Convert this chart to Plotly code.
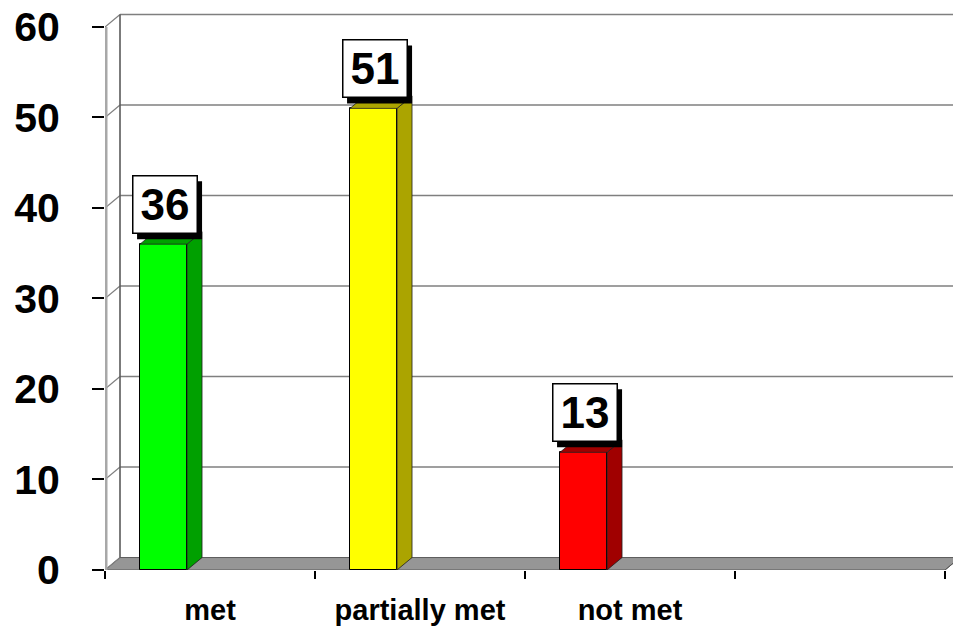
import plotly.graph_objects as go

# Data
categories = ["met", "partially met", "not met"]
values = [36, 51, 13]
front_colors = ["#00FF00", "#FFFF00", "#FF0000"]
side_colors = ["#00A000", "#ABA400", "#A00000"]
y_ticks = [0, 10, 20, 30, 40, 50, 60]
slot_edges = [0, 1, 2, 3, 4]

# Geometry of the pseudo-3D box (data units)
W, H = 953, 626
ML, MB = 105, 54
PX_X = 210.0          # pixels per category slot
PX_Y = 9.083          # pixels per value unit
XMAX = (W - ML) / PX_X
YMAX = (H - MB) / PX_Y
DX = 15 / PX_X        # depth offset, horizontal
DY = 12.5 / PX_Y      # depth offset, vertical
BAR_OFF = 0.2786      # front-face centre inside its slot
BAR_W = 0.224
BOX_W, BOX_H, BOX_LIFT = 63, 56, 10   # value-label box, pixels

shapes = []

def path(points):
    return "M " + " L ".join(f"{x},{y}" for x, y in points) + " Z"

# floor
shapes.append(dict(type="path", xref="x", yref="y", layer="below",
                   path=path([(0, 0), (4, 0), (4 + DX, DY), (DX, DY)]),
                   fillcolor="#969696", line=dict(color="#5a5a5a", width=1)))

# back-wall gridlines and left-wall connectors
for v in y_ticks[1:]:
    shapes.append(dict(type="line", xref="x", yref="y", layer="below",
                       x0=DX, y0=v + DY, x1=XMAX + 0.1, y1=v + DY,
                       line=dict(color="#7f7f7f", width=1.6)))
for v in y_ticks:
    shapes.append(dict(type="line", xref="x", yref="y", layer="below",
                       x0=0, y0=v, x1=DX, y1=v + DY,
                       line=dict(color="#7f7f7f", width=1.2)))
# back-wall left edge and front axis line
shapes.append(dict(type="line", xref="x", yref="y", layer="below",
                   x0=DX, y0=DY, x1=DX, y1=60 + DY,
                   line=dict(color="#5a5a5a", width=1.6)))
shapes.append(dict(type="line", xref="x", yref="y", layer="below",
                   x0=0.006, y0=0, x1=0.006, y1=60,
                   line=dict(color="#a8a8a8", width=2.5)))
# right end of the floor
shapes.append(dict(type="line", xref="x", yref="y", layer="below",
                   x0=4, y0=0, x1=4 + DX, y1=DY,
                   line=dict(color="#5a5a5a", width=1)))

bar_x = [i + BAR_OFF for i in range(len(categories))]

# side and top faces of each bar
for xc, v, sc in zip(bar_x, values, side_colors):
    xl, xr = xc - BAR_W / 2, xc + BAR_W / 2
    shapes.append(dict(type="path", xref="x", yref="y", layer="above",
                       path=path([(xr, 0), (xr + DX, DY), (xr + DX, v + DY), (xr, v)]),
                       fillcolor=sc, line=dict(color="#202020", width=0.8)))
    shapes.append(dict(type="path", xref="x", yref="y", layer="above",
                       path=path([(xl, v), (xl + DX, v + DY), (xr + DX, v + DY), (xr, v)]),
                       fillcolor=sc, line=dict(color="#202020", width=0.8)))
    # drop shadow behind the value label, sized in pixels around the bar top
    cx = xc + 0.005
    shapes.append(dict(type="rect", xref="x", yref="y", layer="above",
                       xsizemode="pixel", ysizemode="pixel",
                       xanchor=cx, yanchor=v,
                       x0=-BOX_W / 2 - 1 + 5, x1=BOX_W / 2 + 1 + 5,
                       y0=BOX_LIFT - 5, y1=BOX_LIFT + BOX_H + 2 - 5,
                       fillcolor="#000000", line=dict(width=0)))

fig = go.Figure()
fig.add_trace(go.Bar(
    x=bar_x, y=values, width=BAR_W,
    marker=dict(color=front_colors, line=dict(color="#000000", width=1)),
    hoverinfo="skip", showlegend=False,
))
# invisible trace carrying the category axis
fig.add_trace(go.Scatter(x=[i + 0.5 for i in range(len(categories))],
                         y=[0] * len(categories), xaxis="x2", mode="markers",
                         marker=dict(opacity=0), hoverinfo="skip", showlegend=False))

annotations = []
for xc, v in zip(bar_x, values):
    annotations.append(dict(x=xc + 0.005, y=v, xref="x", yref="y",
                            text=f"<b>{v}</b>",
                            showarrow=False, yanchor="bottom", yshift=BOX_LIFT,
                            width=BOX_W, height=BOX_H, bgcolor="#FFFFFF",
                            bordercolor="#000000", borderwidth=1.5, borderpad=0,
                            font=dict(family="Liberation Sans, Arial", size=44, color="#000000")))

fig.update_layout(
    width=W, height=H,
    margin=dict(l=ML, r=0, t=0, b=MB, pad=0),
    paper_bgcolor="#FFFFFF", plot_bgcolor="#FFFFFF",
    shapes=shapes, annotations=annotations,
    xaxis=dict(range=[0, XMAX], tickvals=slot_edges, showticklabels=False,
               ticks="outside", ticklen=8, tickwidth=1.5, tickcolor="#000000",
               showgrid=False, zeroline=False, showline=False, fixedrange=True),
    xaxis2=dict(range=[0, XMAX], overlaying="x", side="bottom",
                tickvals=[i + 0.5 for i in range(len(categories))],
                ticktext=[f"<b>{c}</b>" for c in categories],
                ticks="", ticklabelstandoff=20,
                tickfont=dict(family="Liberation Sans, Arial", size=29, color="#000000"),
                showgrid=False, zeroline=False, showline=False),
    yaxis=dict(range=[0, YMAX], tickvals=y_ticks,
               ticktext=[f"<b>{t}</b>" for t in y_ticks],
               ticks="outside", ticklen=12, tickwidth=1.5, tickcolor="#000000",
               ticklabelstandoff=24,
               tickfont=dict(family="Liberation Sans, Arial", size=41, color="#000000"),
               showgrid=False, zeroline=False, showline=False),
    bargap=0,
)

fig.write_html("out.html")
